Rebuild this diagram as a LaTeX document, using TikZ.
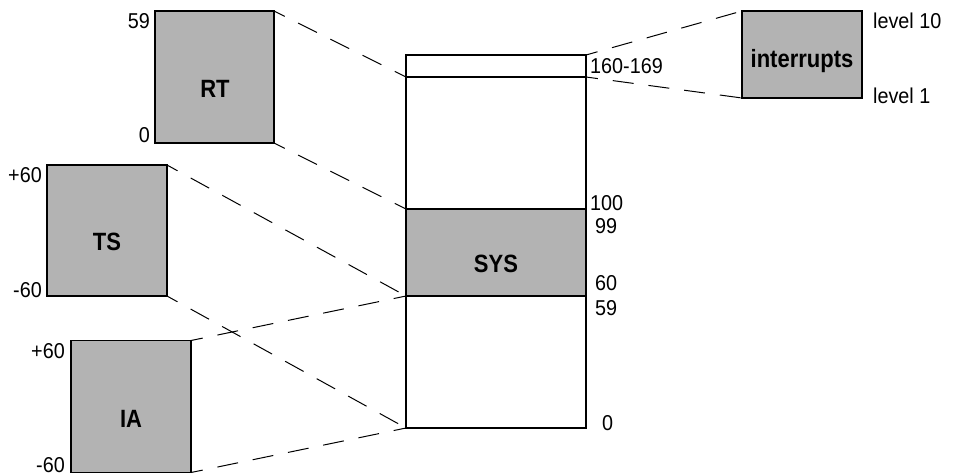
\documentclass[tikz,border=0pt]{standalone}
\usepackage{fontspec}
\setmainfont{Liberation Sans}[FakeStretch=0.92]
\newfontfamily\titlefont{Liberation Sans}[FakeStretch=0.88]
\definecolor{boxgray}{RGB}{179,179,179}
\tikzset{
  pbox/.style={draw, line width=1.2pt, inner sep=0pt, outer sep=0pt},
  gbox/.style={pbox, fill=boxgray},
  dline/.style={line width=1pt, dash pattern=on 21pt off 15pt, dash phase=9pt},
  num/.style={inner sep=0pt, font=\fontsize{21.5}{25}\selectfont},
  title/.style={inner sep=0pt, font=\titlefont\fontsize{25}{29}\selectfont\bfseries, anchor=base}
}
\begin{document}
\begin{tikzpicture}[x=1pt,y=-1pt]
\useasboundingbox (0,0) rectangle (953,475);
% side boxes
\node[gbox, minimum width=119pt, minimum height=132pt] (rt) at (214.5,77) {};
\node[gbox, minimum width=120pt, minimum height=131pt] (ts) at (107,230.5) {};
\node[gbox, minimum width=120pt, minimum height=132pt] (ia) at (131,406.5) {};
\node[gbox, minimum width=120pt, minimum height=87pt] (intr) at (802,54.5) {};
% column
\node[pbox, minimum width=180pt, minimum height=22pt] (band) at (496,66) {};
\node[pbox, minimum width=180pt, minimum height=132pt] (up) at (496,143) {};
\node[gbox, minimum width=180pt, minimum height=87pt] (sys) at (496,252.5) {};
\node[pbox, minimum width=180pt, minimum height=132pt] (low) at (496,362) {};
% titles
\node[title] (trt) at (215,97) {RT};
\node[title] (tts) at (107,250) {TS};
\node[title] (tia) at (131,427) {IA};
\node[title] (tsys) at (496,272) {SYS};
\node[title] (tint) at (802,67) {interrupts};
% dashed connectors
\draw[dline] (rt.north east) -- (band.south west);
\draw[dline] (rt.south east) -- (sys.north west);
\draw[dline] (ts.north east) -- (sys.south west);
\draw[dline] (ts.south east) -- (low.south west);
\draw[dline] (ia.north east) -- (sys.south west);
\draw[dline] (ia.south east) -- (low.south west);
\draw[dline] (band.north east) -- (intr.north west);
\draw[dline] (band.south east) -- (intr.south west);
% numbers left
\node[num, anchor=base east] (n1) at (150,28) {59};
\node[num, anchor=base east] (n2) at (150,142) {0};
\node[num, anchor=base east] (n3) at (42,182) {+60};
\node[num, anchor=base east] (n4) at (42,297) {-60};
\node[num, anchor=base east] (n5) at (65,358) {+60};
\node[num, anchor=base east] (n6) at (65,472) {-60};
% numbers right
\node[num, anchor=base west] (n7) at (590,73) {160-169};
\node[num, anchor=base west] (n8) at (590,210) {100};
\node[num, anchor=base west] (n9) at (595,233) {99};
\node[num, anchor=base west] (n10) at (595,290) {60};
\node[num, anchor=base west] (n11) at (595,315) {59};
\node[num, anchor=base west] (n12) at (602,430) {0};
\node[num, anchor=base west] (n13) at (873,28) {level 10};
\node[num, anchor=base west] (n14) at (873,103) {level 1};
\end{tikzpicture}
\end{document}
